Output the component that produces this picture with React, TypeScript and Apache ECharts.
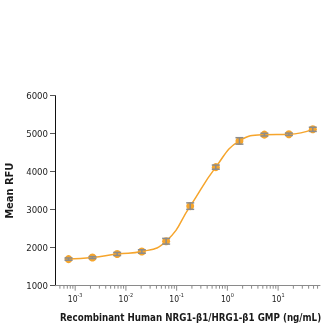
import React, { useEffect, useRef } from "react";
import * as echarts from "echarts";

// Concentrations (ng/mL)
const concentrations = [0.00074, 0.00219, 0.00673, 0.0206, 0.0621, 0.185, 0.591, 1.73, 5.37, 16.3, 48.3];
// Mean RFU values
const meanRFU = [1700, 1740, 1835, 1900, 2170, 3095, 4120, 4810, 4975, 4985, 5115];
// Error (± RFU)
const errRFU = [30, 25, 40, 45, 75, 85, 55, 85, 35, 30, 55];

// axis tick labels by decade exponent
const decadeExponents = [-3, -2, -1, 0, 1];
const decadeSup = ["-3", "-2", "-1", "0", "1"];
const minorMultipliers = [2, 3, 4, 5, 6, 7, 8, 9];
const minorDecades = [-4, -3, -2, -1, 0, 1];
const yTicks = [1000, 2000, 3000, 4000, 5000, 6000];

const X_MIN = 0.0004;
const X_MAX = 67;
const ORANGE = "#F6A52C";
const FONT = "'DejaVu Sans Condensed', 'Liberation Sans Narrow', Roboto, sans-serif";

export default function App() {
  const ref = useRef<HTMLDivElement>(null);
  useEffect(() => {
    if (!ref.current) return;
    const chart = echarts.init(ref.current, undefined, { renderer: "svg" });

    const tickData: number[][] = [];
    decadeExponents.forEach((e) => tickData.push([Math.pow(10, e), yTicks[0], 1]));
    minorDecades.forEach((d) =>
      minorMultipliers.forEach((m) => {
        const v = m * Math.pow(10, d);
        if (v > X_MIN && v < X_MAX) tickData.push([v, yTicks[0], 0]);
      })
    );

    const errData = concentrations.map((c, i) => [c, meanRFU[i] - errRFU[i], meanRFU[i] + errRFU[i]]);

    chart.setOption({
      animation: false,
      grid: { left: 55, right: 6, top: 95.7, bottom: 39.3, containLabel: false, outerBoundsMode: "none" },
      xAxis: {
        type: "log",
        min: X_MIN,
        max: X_MAX,
        logBase: 10,
        name: "Recombinant Human NRG1-β1/HRG1-β1 GMP (ng/mL)",
        nameLocation: "middle",
        nameGap: 27,
        nameTextStyle: { fontFamily: FONT, fontWeight: "bold", fontSize: 9.7, color: "#1a1a1a", padding: [0, 0, 0, 6] },
        axisLine: { show: true, lineStyle: { color: "#8a8a8a", width: 1 } },
        axisTick: { show: false },
        splitLine: { show: false },
        axisLabel: {
          margin: 6,
          showMinLabel: false,
          showMaxLabel: false,
          formatter: (v: number) => {
            const l = Math.log10(v);
            const r = Math.round(l);
            if (Math.abs(l - r) > 1e-6) return "";
            const idx = decadeExponents.indexOf(r);
            if (idx < 0) return "";
            return "{b|10}{s|" + decadeSup[idx] + "}";
          },
          rich: {
            b: { fontFamily: FONT, fontSize: 8.5, color: "#222", lineHeight: 12, verticalAlign: "bottom" },
            s: { fontFamily: FONT, fontSize: 5.5, color: "#222", lineHeight: 12, verticalAlign: "top" },
          },
        },
      },
      yAxis: {
        type: "value",
        min: 1000,
        max: 6000,
        interval: 1000,
        name: "Mean RFU",
        nameLocation: "middle",
        nameGap: 31,
        nameRotate: 90,
        nameTextStyle: { fontFamily: FONT, fontWeight: "bold", fontSize: 11, color: "#1a1a1a" },
        axisLine: { show: true, lineStyle: { color: "#111", width: 1 } },
        axisTick: { show: true, inside: false, length: 5, lineStyle: { color: "#555" } },
        splitLine: { show: false },
        axisLabel: { fontFamily: FONT, fontSize: 9.5, color: "#222", margin: 7, formatter: (v: number) => String(v) },
      },
      series: [
        {
          type: "line",
          data: concentrations.map((c, i) => [c, meanRFU[i]]),
          smooth: 0.5,
          showSymbol: false,
          lineStyle: { color: ORANGE, width: 1.5 },
          z: 2,
        },
        {
          type: "scatter",
          data: concentrations.map((c, i) => [c, meanRFU[i]]),
          symbolSize: 8,
          itemStyle: { color: ORANGE, opacity: 1 },
          z: 3,
        },
        {
          type: "custom",
          data: errData,
          encode: { x: 0, y: [1, 2] },
          z: 4,
          renderItem: (params: any, api: any) => {
            const lo = api.coord([api.value(0), api.value(1)]);
            const hi = api.coord([api.value(0), api.value(2)]);
            const hw = 4;
            const style = { stroke: "#8c8c8c", lineWidth: 1.5 };
            return {
              type: "group",
              children: [
                { type: "line", shape: { x1: lo[0], y1: lo[1], x2: hi[0], y2: hi[1] }, style },
                { type: "line", shape: { x1: lo[0] - hw, y1: lo[1], x2: lo[0] + hw, y2: lo[1] }, style },
                { type: "line", shape: { x1: hi[0] - hw, y1: hi[1], x2: hi[0] + hw, y2: hi[1] }, style },
              ],
            };
          },
        },
        {
          type: "custom",
          data: tickData,
          encode: { x: 0, y: 1 },
          clip: false,
          z: 1,
          silent: true,
          renderItem: (params: any, api: any) => {
            const p = api.coord([api.value(0), api.value(1)]);
            const len = api.value(2) ? 5 : 3;
            return {
              type: "line",
              shape: { x1: p[0], y1: p[1], x2: p[0], y2: p[1] + len },
              style: { stroke: "#8a8a8a", lineWidth: 1 },
            };
          },
        },
      ],
    });
    return () => chart.dispose();
  }, []);
  return <div ref={ref} style={{ position: "fixed", left: 0, top: 0, width: 326, height: 325 }} />;
}
